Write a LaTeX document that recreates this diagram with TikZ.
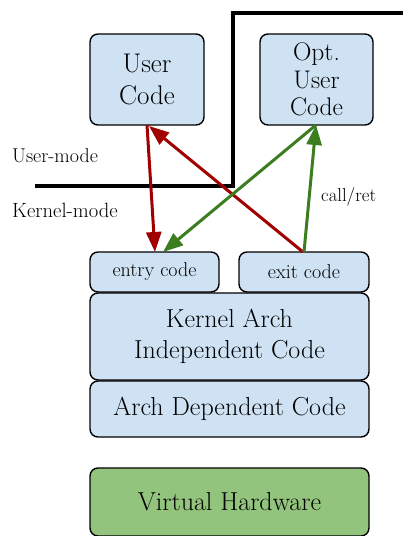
\documentclass[tikz,border=0pt]{standalone}
\usetikzlibrary{arrows.meta}
\definecolor{boxblue}{HTML}{CFE2F3}
\definecolor{hwgreen}{HTML}{93C47D}
\definecolor{redarrow}{HTML}{A00000}
\definecolor{greenarrow}{HTML}{3B7D1F}
\newcommand{\bigtext}{\fontsize{26}{31}\selectfont}
\newcommand{\smalltext}{\fontsize{20}{22}\selectfont}
\tikzset{
  codebox/.style={draw=black, line width=1.4pt, fill=boxblue, rounded corners=8pt, inner sep=0pt, align=center},
  flow/.style={line width=3pt, -{Triangle[length=20pt,width=15pt]}},
  modelabel/.style={anchor=west, inner sep=0pt},
}
\begin{document}
\begin{tikzpicture}[x=1pt,y=-1pt]
\useasboundingbox (0,0) rectangle (403,536);

% user-space boxes
\node[codebox, minimum width=114pt, minimum height=91pt, font=\fontsize{27}{32}\selectfont] (user) at (147,79.5) {User\\Code};
\node[codebox, minimum width=113pt, minimum height=91pt, font=\fontsize{25.5}{27.5}\selectfont] (opt) at (316.5,79.5) {Opt.\\User\\Code};

% kernel boxes
\node[codebox, minimum width=129pt, minimum height=40pt, font=\smalltext] (entry) at (154.5,272) {entry code};
\node[codebox, minimum width=130pt, minimum height=40pt, font=\smalltext] (exit) at (304,272) {exit code};
\node[codebox, minimum width=279pt, minimum height=87pt, font=\bigtext] (indep) at (229.5,336.5) {Kernel Arch\\Independent Code};
\node[codebox, minimum width=279pt, minimum height=56pt, font=\bigtext] (dep) at (229.5,409) {Arch Dependent Code};
\node[codebox, fill=hwgreen, minimum width=279pt, minimum height=68pt, font=\bigtext] (hw) at (229.5,502) {Virtual Hardware};

% user/kernel boundary
\coordinate (b1) at (35,186);
\coordinate (b2) at (233,186);
\coordinate (b3) at (233,13);
\coordinate (b4) at (403,13);
\draw[line width=4.2pt, line join=miter] (b1) -- (b2) -- (b3) -- (b4);

\node[modelabel, font=\smalltext] (um) at (12,156) {User-mode};
\node[modelabel, font=\fontsize{20.6}{22}\selectfont] (km) at (12,210) {Kernel-mode};

% transitions
\coordinate (ub) at (147,125);
\coordinate (ub2) at (149,126);
\coordinate (ob) at (316,125);
\coordinate (et) at (155,252);
\coordinate (et2) at (163,252);
\coordinate (xt) at (303,252);
\coordinate (xt2) at (304,252);

\draw[flow, redarrow] (ub) -- (et);
\draw[flow, redarrow] (xt) -- (ub2);
\draw[flow, greenarrow] (ob) -- (et2);
\draw[flow, greenarrow] (xt2) -- (ob);
\node[modelabel, font=\fontsize{18.7}{20}\selectfont] (cr) at (321,197) {call/ret};
\end{tikzpicture}
\end{document}
